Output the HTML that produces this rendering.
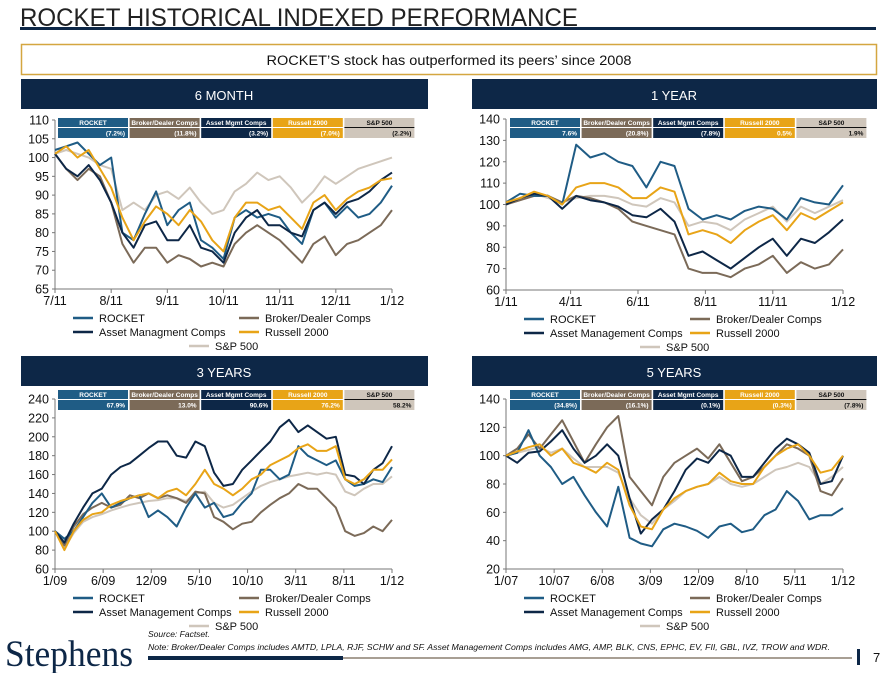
<!DOCTYPE html>
<html><head><meta charset="utf-8"><style>
body{margin:0;background:#fff;}
svg{display:block;font-family:"Liberation Sans",sans-serif;}
</style></head><body>
<svg id="page" width="894" height="673" viewBox="0 0 894 673" xmlns="http://www.w3.org/2000/svg">
<text x="20" y="26" font-size="25" fill="#222" textLength="558" lengthAdjust="spacingAndGlyphs">ROCKET HISTORICAL INDEXED PERFORMANCE</text>
<rect x="20" y="27" width="856" height="3" fill="#0d2747"/>
<rect x="21.5" y="44.5" width="855" height="30" fill="#fff" stroke="#d4a640" stroke-width="1.5"/>
<text x="449" y="65" font-size="13.5" text-anchor="middle" fill="#111" textLength="365" lengthAdjust="spacingAndGlyphs">ROCKET’S stock has outperformed its peers’ since 2008</text>
<g><rect x="21" y="79" width="407" height="30" fill="#0d2747"/><text x="224" y="100" font-size="13" fill="#fff" text-anchor="middle">6 MONTH</text></g>
<g><rect x="472" y="79" width="405" height="30" fill="#0d2747"/><text x="674" y="100" font-size="13" fill="#fff" text-anchor="middle">1 YEAR</text></g>
<g><rect x="21" y="356" width="407" height="30" fill="#0d2747"/><text x="224" y="377" font-size="13" fill="#fff" text-anchor="middle">3 YEARS</text></g>
<g><rect x="472" y="356" width="405" height="30" fill="#0d2747"/><text x="674" y="377" font-size="13" fill="#fff" text-anchor="middle">5 YEARS</text></g>
<g id="charts"></g>
<text x="5" y="666" font-family="Liberation Serif,serif" font-size="37" fill="#0d2747" textLength="128" lengthAdjust="spacingAndGlyphs">Stephens</text>
<text x="148" y="637" font-size="8.5" font-style="italic" fill="#111">Source: Factset.</text>
<text x="148" y="650" font-size="8.5" font-style="italic" fill="#111" textLength="682" lengthAdjust="spacingAndGlyphs">Note: Broker/Dealer Comps includes AMTD, LPLA, RJF, SCHW and SF.  Asset Management Comps includes AMG, AMP, BLK, CNS, EPHC, EV, FII, GBL, IVZ, TROW and WDR.</text>
<rect x="148" y="656" width="195" height="4" fill="#0d2747"/>
<rect x="343" y="657" width="509" height="2" fill="#a89f94"/>
<rect x="857" y="649" width="3" height="16" fill="#0d2747"/>
<text x="873" y="662" font-size="13" fill="#111">7</text>
</svg>
<script>
const seriesNames=["ROCKET","Broker/Dealer Comps","Asset Mgmt Comps","Russell 2000","S&P 500"];
const seriesColors=["#1f5c85","#7b6a58","#0d2747","#e8a417","#cfc6bb"];
// 6 month
const p1Values=[
[102,103,104,101,98,100,80,78,85,91,82,86,88,78,76,73,84,86,84,85,84,80,77,86,88,84,87,84,85,88,92.5],
[101,97,94,97,95,88,77,72,76,76,72,74,73,71,72,71,77,80,82,80,78,75,72,77,79,74,77,78,80,82,86],
[101,97,95,98,94,88,80,76,82,83,78,78,82,76,75,72,80,84,86,82,82,80,79,86,88,85,88,89,91,94,96],
[101,103,100,102,97,92,84,78,83,87,85,82,86,83,78,75,84,88,88,86,87,84,81,88,90,86,89,91,92,94,94.5],
[101,102,101,100,98,97,86,88,86,90,91,89,92,88,85,86,91,93,96,94,95,92,88,91,95,93,95,97,98,99,100]];
const p1Ticks=["7/11","8/11","9/11","10/11","11/11","12/11","1/12"];
const p1Returns=["(7.2%)","(11.8%)","(3.2%)","(7.0%)","(2.2%)"];
// 1 year
const p2Values=[
[101,105,104,104,100,128,122,124,120,118,108,120,118,98,93,95,93,97,99,98,93,103,101,100,109],
[100,102,104,104,101,104,103,101,98,92,90,88,86,70,68,68,66,70,72,76,68,73,70,72,79],
[100,103,105,104,98,104,102,101,99,95,94,98,92,76,78,74,70,75,80,84,76,84,82,87,93],
[101,103,106,104,100,108,110,110,108,103,103,108,106,86,88,86,82,88,92,95,88,96,93,97,101],
[100,102,105,103,101,103,104,104,103,100,99,103,101,90,92,91,88,93,96,99,92,99,96,99,102]];
const p2Ticks=["1/11","4/11","6/11","8/11","11/11","1/12"];
const p2TickMonths=[0,2.3,4.7,7.1,9.5,12];
const p2Returns=["7.6%","(20.8%)","(7.8%)","0.5%","1.9%"];
// 3 years
const p3Values=[
[100,92,100,115,130,140,125,130,135,138,115,122,115,105,125,140,125,130,115,118,130,140,165,165,155,160,190,180,175,170,175,155,148,150,155,152,168],
[100,85,105,118,125,130,125,128,138,135,140,135,138,135,130,142,140,115,110,102,108,110,120,128,135,140,150,145,145,135,125,100,95,98,105,100,112],
[100,88,108,125,140,145,160,168,172,180,188,195,195,180,178,195,190,162,148,150,165,175,185,195,210,218,205,212,205,198,200,160,158,150,165,172,190],
[100,80,100,112,118,120,128,132,135,138,140,135,142,145,138,150,165,150,145,138,145,155,160,170,175,180,188,192,185,185,190,155,150,155,165,165,176],
[100,82,98,110,115,118,122,125,128,130,132,133,135,135,132,140,142,130,125,128,135,142,148,152,155,158,160,162,160,162,160,142,138,145,150,150,158]];
const p3Ticks=["1/09","6/09","12/09","5/10","10/10","3/11","8/11","1/12"];
const p3Returns=["67.9%","13.0%","90.6%","76.2%","58.2%"];
// 5 years
const p4Values=[
[100,102,118,100,92,80,85,72,60,50,78,42,38,36,48,52,50,47,42,50,52,46,48,58,62,75,68,55,58,58,63],
[100,105,115,105,115,125,110,95,108,120,128,85,75,65,85,95,100,105,98,108,95,82,85,92,100,108,105,100,75,72,84],
[100,95,102,103,110,118,105,95,100,108,100,70,45,55,62,75,90,98,95,104,100,85,85,95,105,112,108,102,80,82,100],
[100,103,106,108,100,105,95,92,88,95,90,65,50,48,62,70,75,78,80,88,82,80,80,92,100,105,108,100,88,90,100],
[100,102,104,106,102,105,98,92,92,92,88,70,58,52,62,68,75,78,80,85,80,78,80,85,90,92,95,92,80,85,92]];
const p4Ticks=["1/07","10/07","6/08","3/09","12/09","8/10","5/11","1/12"];
const p4Returns=["(34.8%)","(16.1%)","(0.1%)","(0.3%)","(7.8%)"];

const NS="http://www.w3.org/2000/svg";
const root=document.getElementById('charts');
function mk(tag,attrs,parent){const e=document.createElementNS(NS,tag);for(const k in attrs)e.setAttribute(k,attrs[k]);(parent||root).appendChild(e);return e;}

function drawPanel(cfg){
  const g=mk('g',{});
  
  
  const n=cfg.values[0].length;
  const xs=i=>cfg.x0+(cfg.x1-cfg.x0)*i/(n-1);
  const ys=v=>cfg.yBot-(v-cfg.yMin)/(cfg.yMax-cfg.yMin)*(cfg.yBot-cfg.yTop);
  const ax=mk('line',{x1:cfg.x0,y1:cfg.yTop,x2:cfg.x0,y2:cfg.yBot,stroke:'#777','stroke-width':1},g);
  
  
  const bx=mk('line',{x1:cfg.x0,y1:cfg.yBot,x2:cfg.x1,y2:cfg.yBot,stroke:'#777','stroke-width':1},g);
  
  
  for(let v=cfg.yMin;v<=cfg.yMax+0.01;v+=cfg.yStep){
    const t=mk('text',{x:cfg.x0-6,y:ys(v)+4.5,'font-size':12.5,'text-anchor':'end',fill:'#111'},g);
    t.textContent=v;
    
    
    mk('line',{x1:cfg.x0-3,y1:ys(v),x2:cfg.x0,y2:ys(v),stroke:'#777'},g);
  }
  cfg.ticks.forEach((lab,i)=>{
    const frac=cfg.tickPos?cfg.tickPos[i]/cfg.tickPos[cfg.tickPos.length-1]:i/(cfg.ticks.length-1);
    const x=cfg.x0+(cfg.x1-cfg.x0)*frac;
    mk('line',{x1:x,y1:cfg.yBot,x2:x,y2:cfg.yBot+4,stroke:'#777'},g);
    const t=mk('text',{x:x,y:cfg.yBot+16,'font-size':12.5,'text-anchor':'middle',fill:'#111'},g);
    t.textContent=lab;
    
    
  });
  const order=[4,1,0,2,3];
  order.forEach(s=>{
    const d=cfg.values[s].map((v,i)=>(i?'L':'M')+xs(i).toFixed(1)+' '+ys(v).toFixed(1)).join(' ');
    const p=mk('path',{d:d,fill:'none',stroke:seriesColors[s],'stroke-width':2,'stroke-linejoin':'round'},g);
    
    
  });
  for(let s=0;s<5;s++){
    const cx=cfg.tx+s*71.6;
    const h=mk('rect',{x:cx,y:cfg.ty,width:70,height:9,fill:seriesColors[s]},g);
    
    
    const hv=mk('rect',{x:cx,y:cfg.ty+10,width:70,height:10,fill:seriesColors[s]},g);
    
    
    const txtc=s===4?'#111':'#fff';
    if(s===4) mk('line',{x1:cx,y1:cfg.ty+9.5,x2:cx+70,y2:cfg.ty+9.5,stroke:'#111','stroke-width':1},g);
    const t=mk('text',{x:cx+35,y:cfg.ty+7,'font-size':6.5,'font-weight':'bold','text-anchor':'middle',fill:txtc},g);
    t.textContent=s===2?'Asset Mgmt Comps':seriesNames[s];
    
    
    const tv=mk('text',{x:cx+67,y:cfg.ty+17.5,'font-size':6.5,'font-weight':'bold','text-anchor':'end',fill:txtc},g);
    tv.textContent=cfg.returns[s];
    
    
  }
  const leg=[[0,cfg.x0+18,0],[1,cfg.x0+184,0],[2,cfg.x0+18,1],[3,cfg.x0+184,1],[4,cfg.x0+134,2]];
  leg.forEach(([s,lx,row])=>{
    const ly=cfg.yBot+29+row*14;
    const lg=mk('g',{},g);
    
    
    mk('line',{x1:lx,y1:ly,x2:lx+20,y2:ly,stroke:seriesColors[s],'stroke-width':2.5},lg);
    const t=mk('text',{x:lx+26,y:ly+4,'font-size':11,fill:'#111'},lg);
    t.textContent=s===2?cfg.amName:(s===4?'S&P 500':seriesNames[s]);
  });
}
drawPanel({name:'chart-6-month',values:p1Values,ticks:p1Ticks,returns:p1Returns,x0:55,x1:392,yTop:120,yBot:289,yMin:65,yMax:110,yStep:5,tx:58,ty:118,amName:'Asset Managment Comps'});
drawPanel({name:'chart-1-year',values:p2Values,ticks:p2Ticks,tickPos:p2TickMonths,returns:p2Returns,x0:506,x1:843,yTop:119,yBot:290,yMin:60,yMax:140,yStep:10,tx:510,ty:118,amName:'Asset Management Comps'});
drawPanel({name:'chart-3-years',values:p3Values,ticks:p3Ticks,returns:p3Returns,x0:55,x1:392,yTop:399,yBot:569,yMin:60,yMax:240,yStep:20,tx:58,ty:390,amName:'Asset Management Comps'});
drawPanel({name:'chart-5-years',values:p4Values,ticks:p4Ticks,returns:p4Returns,x0:506,x1:843,yTop:399,yBot:569,yMin:20,yMax:140,yStep:20,tx:510,ty:390,amName:'Asset Management Comps'});
</script>
</body></html>
